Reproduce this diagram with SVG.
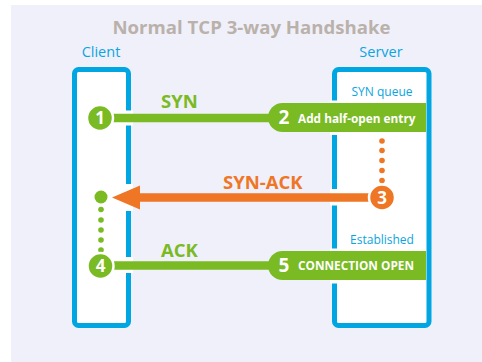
<svg xmlns="http://www.w3.org/2000/svg" width="482" height="362" viewBox="0 0 482 362">
<style>
  text { font-family: "Open Sans", "Noto Sans", "DejaVu Sans", sans-serif; }
  .title { font-size: 18.6px; font-weight: bold; fill: #bab2aa; text-anchor: middle; }
  .side { font-size: 14.5px; fill: #0aa5e0; text-anchor: middle; }
  .note { font-size: 12px; fill: #0aa5e0; text-anchor: middle; }
  .box { fill: #ffffff; stroke: #00a6e2; stroke-width: 5; }
  .gap { fill: #ffffff; }
  .g { fill: #7aba22; }
  .o { fill: #ee7624; }
  .gl { stroke: #7aba22; stroke-width: 8.5; fill: none; }
  .ol { stroke: #ee7624; stroke-width: 8.5; fill: none; }
  .num { font-size: 17px; font-weight: bold; fill: #ffffff; text-anchor: middle; }
  .ring { stroke: #ffffff; stroke-width: 2.5; }
  .lbl { font-size: 18.5px; font-weight: bold; }
  .pilltxt { font-size: 11.8px; font-weight: bold; fill: #ffffff; }
</style>
<rect x="11" y="5" width="471" height="357" fill="#f0f0fb"/>
<text class="title" x="251.5" y="34">Normal TCP 3-way Handshake</text>

<g id="client">
  <text class="side" x="101" y="57">Client</text>
  <rect class="box" x="74.5" y="69.5" width="54" height="256" rx="4"/>
  <rect class="gap" x="125" y="110.5" width="8" height="15"/>
  <rect class="gap" x="125" y="184" width="8" height="27"/>
  <rect class="gap" x="125" y="257" width="8" height="16"/>
</g>

<g id="server">
  <text class="side" x="381" y="57">Server</text>
  <rect class="box" x="334.5" y="69.5" width="94.5" height="256" rx="4"/>
  <rect class="gap" x="330" y="100.5" width="9" height="34.5"/>
  <rect class="gap" x="330" y="189" width="9" height="16.5"/>
  <rect class="gap" x="330" y="248.5" width="9" height="35"/>
  <text class="note" x="382" y="96">SYN queue</text>
  <text class="note" x="382" y="244">Established</text>
</g>

<g id="connectors">
  <line class="gl" x1="100" y1="118" x2="284" y2="118"/>
  <line class="ol" x1="382" y1="197.5" x2="136" y2="197.5"/>
  <polygon class="o" points="112,197.5 140,185.5 140,209.5"/>
  <line class="gl" x1="100" y1="265.5" x2="284" y2="265.5"/>
  <g class="o">
    <circle cx="382" cy="141" r="2.8"/>
    <circle cx="382" cy="150.5" r="2.8"/>
    <circle cx="382" cy="160.5" r="2.8"/>
    <circle cx="382" cy="170.5" r="2.8"/>
    <circle cx="382" cy="180.5" r="2.8"/>
  </g>
  <g class="g">
    <circle cx="101" cy="197" r="6.5"/>
    <circle cx="101" cy="209.5" r="2.8"/>
    <circle cx="101" cy="220" r="2.8"/>
    <circle cx="101" cy="230" r="2.8"/>
    <circle cx="101" cy="240" r="2.8"/>
    <circle cx="101" cy="250" r="2.8"/>
  </g>
  <text class="lbl g" x="161" y="107.5">SYN</text>
  <text class="lbl o" x="223" y="188.5">SYN-ACK</text>
  <text class="lbl g" x="161" y="256.5">ACK</text>
</g>

<g id="step1">
  <circle class="g ring" cx="100" cy="118" r="13"/>
  <text class="num" x="100" y="124">1</text>
</g>

<g id="step2">
  <path class="g" d="M282.5,103 H426 V132 H282.5 A14.5,14.5 0 0 1 282.5,103 Z"/>
  <text class="num" x="284" y="124" style="font-size:19px">2</text>
  <text class="pilltxt" x="298" y="122.5">Add half-open entry</text>
</g>

<g id="step3">
  <circle class="o ring" cx="382" cy="197.5" r="13"/>
  <text class="num" x="382" y="203.5">3</text>
</g>

<g id="step4">
  <circle class="g ring" cx="100.5" cy="266" r="13"/>
  <text class="num" x="100.5" y="272">4</text>
</g>

<g id="step5">
  <path class="g" d="M282.5,251 H426 V280 H282.5 A14.5,14.5 0 0 1 282.5,251 Z"/>
  <text class="num" x="284" y="272" style="font-size:19px">5</text>
  <text class="pilltxt" x="298" y="270">CONNECTION OPEN</text>
</g>
</svg>
